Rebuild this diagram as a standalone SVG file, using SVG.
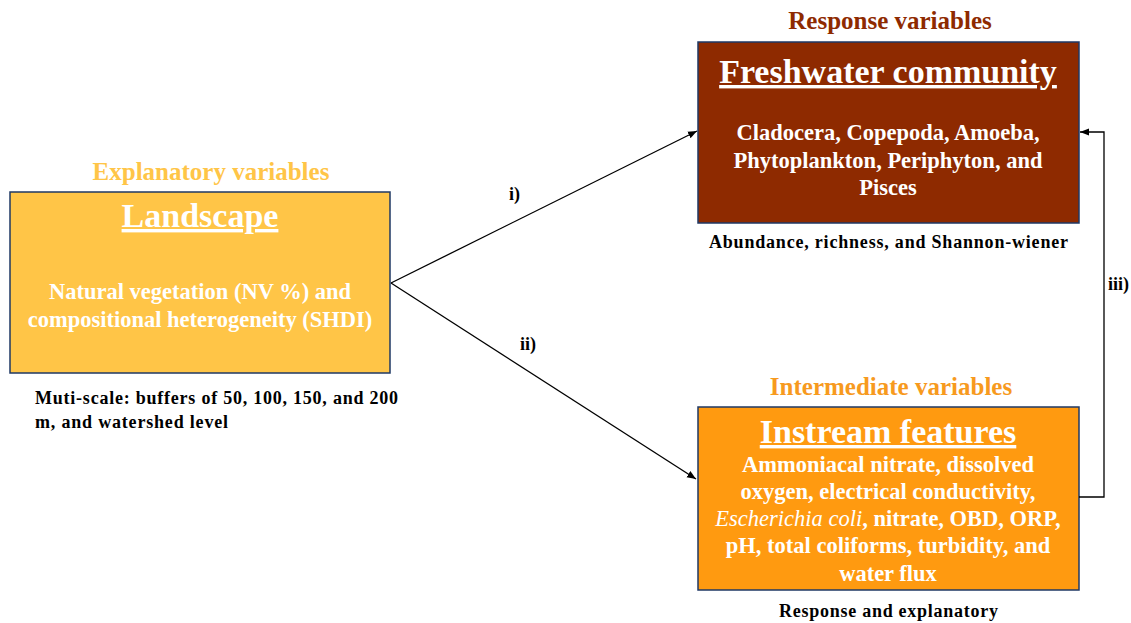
<svg xmlns="http://www.w3.org/2000/svg" width="1131" height="623" viewBox="0 0 1131 623">
<style>
text{font-family:"Liberation Serif","Times New Roman",serif;font-weight:bold}
.box{stroke:#1F3864;stroke-width:1.5}
.head{font-size:25px;text-anchor:middle}
.title{font-size:34px;fill:#fff;text-anchor:middle;text-decoration:underline}
.body{font-size:22.5px;fill:#fff;text-anchor:middle}
.note{font-size:18px;fill:#000}
.lbl{font-size:18px;fill:#000}
.conn{stroke:#000;stroke-width:1.3;fill:none}
</style>
<defs>
<marker id="arr" viewBox="0 0 10 10" refX="10" refY="5" markerWidth="9" markerHeight="9" markerUnits="userSpaceOnUse" orient="auto">
<path d="M0,1 L10,5 L0,9 z" fill="#000"/>
</marker>
</defs>
<rect width="1131" height="623" fill="#fff"/>

<g id="landscape">
<text class="head" x="211" y="180" fill="#FFC547">Explanatory variables</text>
<rect class="box" x="10" y="192" width="380" height="181" fill="#FFC547"/>
<text class="title" x="200" y="227">Landscape</text>
<text class="body" x="200" y="299">Natural vegetation (NV %) and</text>
<text class="body" x="200" y="327">compositional heterogeneity (SHDI)</text>
<text class="note" x="35" y="404" textLength="363" lengthAdjust="spacing">Muti-scale: buffers of 50, 100, 150, and 200</text>
<text class="note" x="35" y="428" textLength="193" lengthAdjust="spacing">m, and watershed level</text>
</g>

<g id="freshwater">
<text class="head" x="890" y="29" fill="#8E2A00">Response variables</text>
<rect class="box" x="698" y="42" width="381" height="181" fill="#8E2A00"/>
<text class="title" x="888" y="83">Freshwater community</text>
<text class="body" x="888" y="140">Cladocera, Copepoda, Amoeba,</text>
<text class="body" x="888" y="168">Phytoplankton, Periphyton, and</text>
<text class="body" x="888" y="195">Pisces</text>
<text class="note" x="709" y="248" textLength="359" lengthAdjust="spacing">Abundance, richness, and Shannon-wiener</text>
</g>

<g id="instream">
<text class="head" x="891" y="395" fill="#F79A1E">Intermediate variables</text>
<rect class="box" x="698" y="407" width="381" height="183" fill="#FF9A10"/>
<text class="title" x="888" y="443">Instream features</text>
<text class="body" x="888" y="472">Ammoniacal nitrate, dissolved</text>
<text class="body" x="888" y="499">oxygen, electrical conductivity,</text>
<text class="body" x="888" y="526"><tspan font-style="italic" font-weight="normal">Escherichia coli</tspan>, nitrate, OBD, ORP,</text>
<text class="body" x="888" y="553">pH, total coliforms, turbidity, and</text>
<text class="body" x="888" y="581">water flux</text>
<text class="note" x="779" y="617" textLength="219" lengthAdjust="spacing">Response and explanatory</text>
</g>

<g id="connectors">
<line class="conn" x1="391" y1="283" x2="697" y2="131" marker-end="url(#arr)"/>
<line class="conn" x1="391" y1="283" x2="696" y2="479" marker-end="url(#arr)"/>
<polyline class="conn" points="1079,497 1104,497 1104,132 1080,132" marker-end="url(#arr)"/>
<text class="lbl" x="509" y="200">i)</text>
<text class="lbl" x="520" y="350">ii)</text>
<text class="lbl" x="1108" y="290">iii)</text>
</g>
</svg>
